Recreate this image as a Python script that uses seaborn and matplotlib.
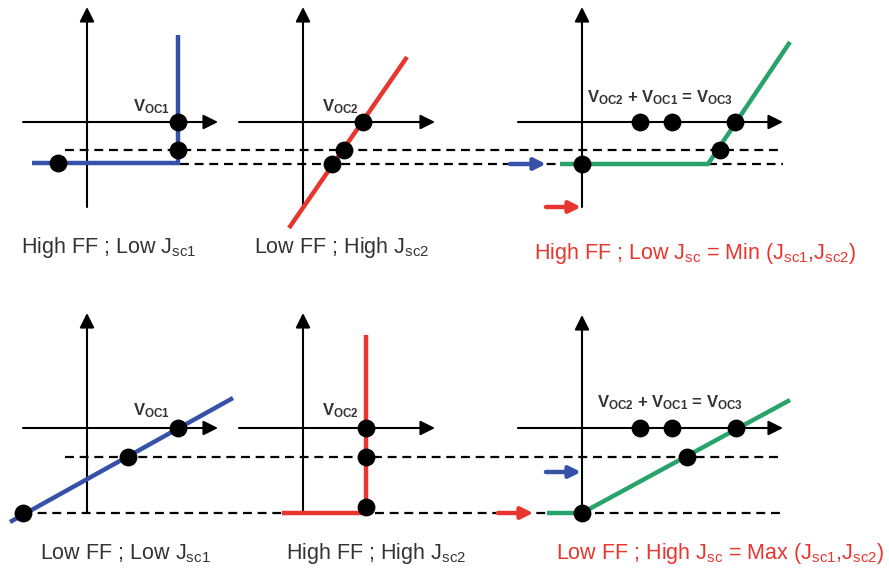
import matplotlib
matplotlib.use("Agg")
import matplotlib.pyplot as plt
import seaborn as sns

sns.set_style("white")
plt.rcParams["font.family"] = ["Liberation Sans", "DejaVu Sans"]

# ---- colours ----
BLUE = "#3551a8"
RED = "#e8352e"
GREEN = "#27a36b"
TXT = "#333333"

# ---- coordinate axes of the six sketches (origin x, origin y, x-left, x-right, y-bottom, y-top) ----
axes_ox = [87, 303, 582, 87, 303, 582]
axes_oy = [122, 122, 122, 428, 428, 428]
axes_xl = [23, 239, 518, 23, 239, 518]
axes_xr = [218, 435, 783, 218, 435, 783]
axes_yb = [207, 207, 207, 513, 513, 513]
axes_yt = [7, 7, 7, 313, 313, 315]

# ---- J-V curves ----
blue_top_x = [32, 178, 178]
blue_top_y = [163, 163, 35]
red_top_x = [289, 407]
red_top_y = [228, 57]
green_top_x = [560, 708, 790]
green_top_y = [164, 164, 42]
blue_bot_x = [10, 233]
blue_bot_y = [522, 398]
red_bot_x = [282, 366, 366]
red_bot_y = [513, 513, 335]
green_bot_x = [547, 582, 790]
green_bot_y = [513, 513, 400]

# ---- operating points ----
dots_x = [178, 178, 58, 363, 344, 332, 640, 672, 735, 720, 582,
          23, 128, 178, 366, 366, 366, 640, 672, 736, 687, 582]
dots_y = [122, 150, 163, 122, 150, 164, 122, 122, 122, 150, 164,
          513, 457, 428, 428, 457, 507, 428, 428, 428, 457, 513]

# ---- dashed guide lines (y, x-start, x-end) ----
dash_y = [150, 164, 457, 513]
dash_x0 = [65, 180, 65, 23]
dash_x1 = [783, 783, 783, 783]

# ---- coloured pointer arrows (x-start, x-end, y, colour) ----
parr_x0 = [510, 546, 546, 498]
parr_x1 = [546, 581, 581, 533]
parr_y = [164, 207, 472, 513]
parr_c = [BLUE, RED, BLUE, RED]

# ---- labels ----
voc_texts = [r"V$\mathregular{_{OC1}}$", r"V$\mathregular{_{OC2}}$",
             r"V$\mathregular{_{OC2}}$ + V$\mathregular{_{OC1}}$ = V$\mathregular{_{OC3}}$",
             r"V$\mathregular{_{OC1}}$", r"V$\mathregular{_{OC2}}$",
             r"V$\mathregular{_{OC2}}$ + V$\mathregular{_{OC1}}$ = V$\mathregular{_{OC3}}$"]
voc_x = [151, 340, 660, 151, 340, 670]
voc_y = [107, 107, 98, 411, 411, 403]

cap_texts = [r"High FF ; Low J$\mathregular{_{sc1}}$",
             r"Low FF ; High J$\mathregular{_{sc2}}$",
             r"High FF ; Low J$\mathregular{_{sc}}$ = Min (J$\mathregular{_{sc1}}$,J$\mathregular{_{sc2}}$)",
             r"Low FF ; Low J$\mathregular{_{sc1}}$",
             r"High FF ; High J$\mathregular{_{sc2}}$",
             r"Low FF ; High J$\mathregular{_{sc}}$ = Max (J$\mathregular{_{sc1}}$,J$\mathregular{_{sc2}}$)"]
cap_x = [21, 254, 534, 40, 286, 556]
cap_y = [247, 247, 254, 554, 554, 554]
cap_c = [TXT, TXT, RED, TXT, TXT, RED]

fig = plt.figure(figsize=(8.89, 5.72), dpi=100)
ax = fig.add_axes([0, 0, 1, 1])
ax.set_xlim(0, 889)
ax.set_ylim(572, 0)
ax.axis("off")

# axes with arrow heads
for ox, oy, xl, xr, yb, yt in zip(axes_ox, axes_oy, axes_xl, axes_xr, axes_yb, axes_yt):
    ax.annotate("", xy=(xr, oy), xytext=(xl, oy),
                arrowprops=dict(arrowstyle="-|>", color="black", lw=1.5,
                                mutation_scale=22, shrinkA=0, shrinkB=0), zorder=2)
    ax.annotate("", xy=(ox, yt), xytext=(ox, yb),
                arrowprops=dict(arrowstyle="-|>", color="black", lw=1.5,
                                mutation_scale=22, shrinkA=0, shrinkB=0), zorder=2)

# dashed guides
for y, x0, x1 in zip(dash_y, dash_x0, dash_x1):
    sns.lineplot(x=[x0, x1], y=[y, y], ax=ax, color="black", lw=1.6,
                 linestyle=(0, (4, 2.6)), sort=False, estimator=None, zorder=1)

# curves
curves = [(blue_top_x, blue_top_y, BLUE), (red_top_x, red_top_y, RED),
          (green_top_x, green_top_y, GREEN), (blue_bot_x, blue_bot_y, BLUE),
          (red_bot_x, red_bot_y, RED), (green_bot_x, green_bot_y, GREEN)]
for cx, cy, col in curves:
    sns.lineplot(x=cx, y=cy, ax=ax, color=col, lw=3.2, sort=False,
                 estimator=None, zorder=3, solid_joinstyle="miter", solid_capstyle="butt")

# dots
sns.scatterplot(x=dots_x, y=dots_y, ax=ax, color="black", s=165, linewidth=0, zorder=5)

# coloured pointer arrows
for x0, x1, y, c in zip(parr_x0, parr_x1, parr_y, parr_c):
    ax.annotate("", xy=(x1, y), xytext=(x0, y),
                arrowprops=dict(arrowstyle="-|>", color=c, lw=3.2,
                                mutation_scale=17, shrinkA=0, shrinkB=0), zorder=4)

for t, x, y in zip(voc_texts, voc_x, voc_y):
    ax.text(x, y, t, ha="center", va="center", fontsize=12, fontweight="bold", color=TXT)

for t, x, y, c in zip(cap_texts, cap_x, cap_y, cap_c):
    ax.text(x, y, t, ha="left", va="center", fontsize=15.5, color=c)

fig.savefig("out.png", dpi=100)
